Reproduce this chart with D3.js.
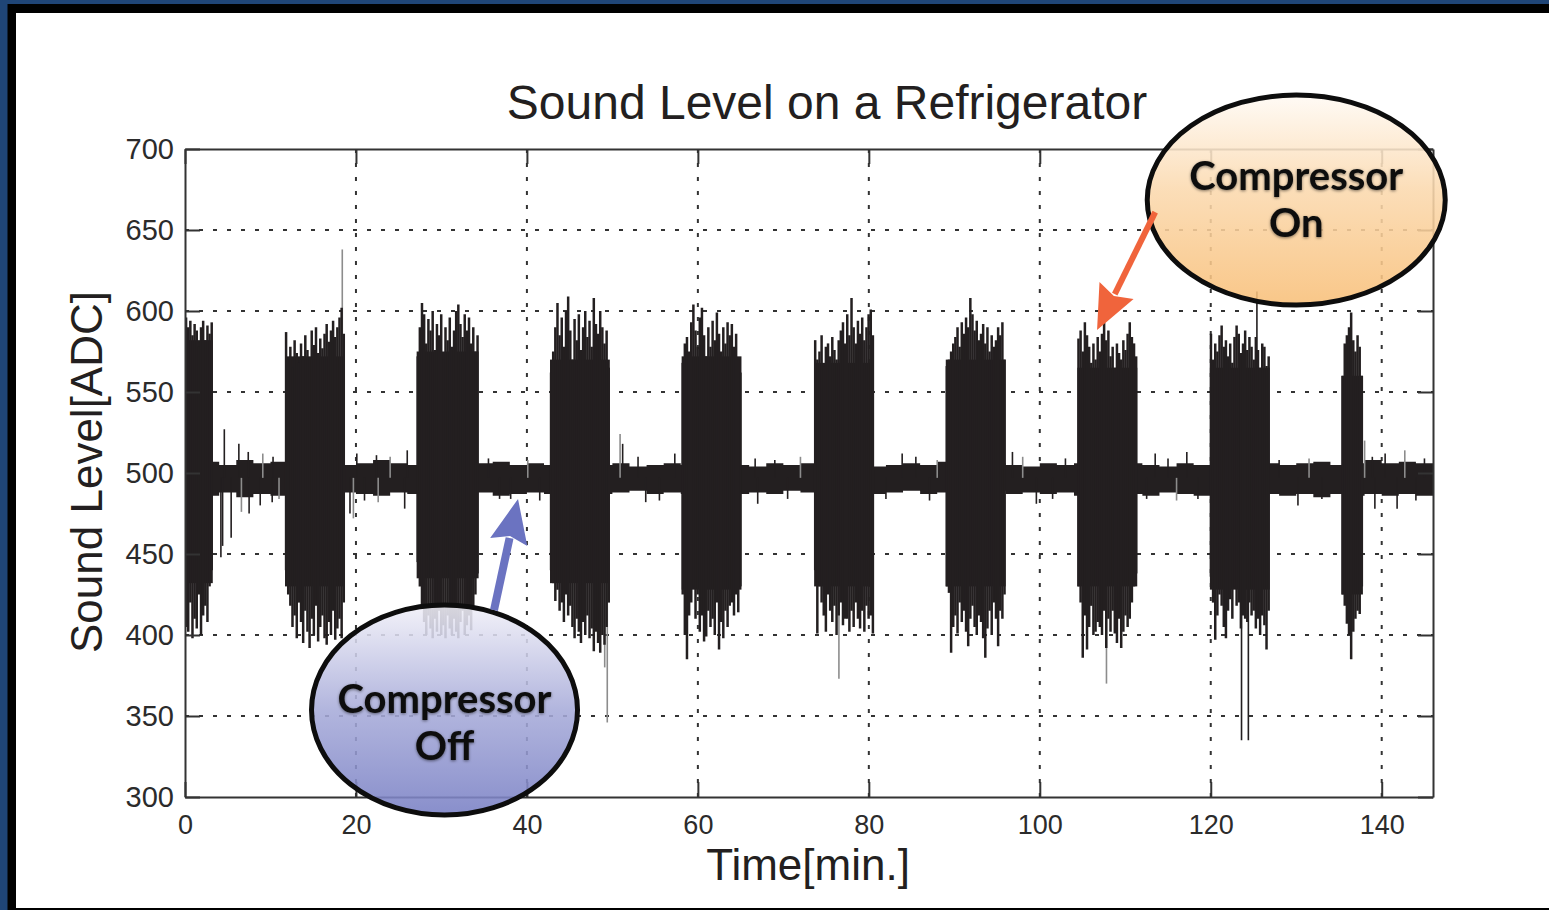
<!DOCTYPE html>
<html>
<head>
<meta charset="utf-8">
<script src="https://cdn.jsdelivr.net/npm/d3@7"></script>
<style>
  html, body { margin: 0; padding: 0; background: #1f4577; }
  svg { display: block; }
</style>
</head>
<body>
<svg id="chart" width="1549" height="910"></svg>
<script>
// ---- values ----
const xTicks = [0, 20, 40, 60, 80, 100, 120, 140];
const yTicks = [300, 350, 400, 450, 500, 550, 600, 650, 700];

// compressor-on bursts: start [min], solid body, envelope every 0.25 min
const sampleStep = 0.25;
const burstStart = [0, 11.7, 27.1, 42.7, 58.1, 73.6, 89.0, 104.4, 119.9, 135.3];
const burstCoreHi = [582, 572, 575, 570, 572, 568, 570, 565, 565, 560];
const burstCoreLo = [432, 430, 435, 432, 428, 430, 430, 430, 428, 425];
const burstHi = [
  [596, 590, 594, 585, 592, 588, 578, 590, 594, 582, 591, 586, 593],
  [587, 570, 578, 565, 582, 574, 568, 580, 572, 585, 576, 570, 588, 579, 590, 574, 583, 577, 586, 592, 581, 588, 594, 584, 590, 596, 602, 586],
  [572, 590, 605, 598, 580, 595, 588, 600, 576, 592, 585, 598, 570, 590, 582, 596, 578, 588, 600, 604, 592, 584, 598, 588, 596, 580, 590, 575, 585],
  [562, 575, 590, 605, 585, 596, 578, 600, 609, 588, 570, 595, 582, 598, 576, 590, 600, 584, 594, 578, 608, 592, 586, 600, 590, 580, 588, 565],
  [568, 580, 584, 575, 593, 604, 588, 578, 596, 602, 585, 572, 590, 578, 594, 582, 599, 586, 575, 590, 580, 593, 585, 592, 578, 586, 570, 562],
  [582, 570, 575, 585, 566, 578, 580, 572, 584, 576, 570, 582, 588, 593, 580, 598, 585, 608, 590, 580, 594, 586, 596, 582, 590, 598, 601, 585],
  [566, 570, 575, 580, 584, 590, 578, 593, 586, 596, 590, 608, 598, 588, 594, 582, 586, 592, 580, 590, 575, 585, 578, 582, 590, 585, 593, 570],
  [583, 588, 575, 593, 585, 578, 568, 580, 570, 584, 575, 586, 593, 582, 588, 572, 578, 565, 580, 574, 570, 582, 576, 586, 593, 584, 580, 572],
  [586, 570, 580, 575, 585, 591, 578, 582, 572, 580, 568, 584, 591, 586, 574, 580, 588, 576, 584, 578, 570, 584, 576, 565, 580, 578, 566, 572],
  [560, 580, 585, 590, 599, 582, 575, 585, 578, 560]
];
const burstLo = [
  [405, 402, 420, 398, 410, 404, 425, 400, 412, 418, 408, 430, 440],
  [440, 425, 418, 405, 412, 398, 420, 408, 395, 415, 402, 392, 410, 400, 418, 396, 405, 412, 398, 394, 408, 400, 415, 397, 404, 410, 398, 420],
  [445, 430, 418, 408, 400, 412, 404, 398, 410, 402, 415, 400, 406, 398, 412, 404, 400, 410, 402, 398, 408, 415, 400, 406, 412, 403, 418, 425, 438],
  [440, 432, 421, 428, 415, 420, 408, 425, 412, 418, 405, 398, 410, 402, 395, 408, 400, 412, 398, 404, 390, 402, 395, 389, 400, 394, 405, 420],
  [425, 400, 385, 412, 420, 430, 410, 425, 402, 412, 396, 399, 415, 405, 410, 400, 420, 391, 408, 398, 415, 405, 418, 420, 412, 425, 414, 430],
  [440, 401, 430, 420, 412, 402, 425, 415, 408, 418, 400, 412, 420, 406, 410, 410, 402, 415, 405, 420, 410, 404, 415, 402, 418, 410, 412, 401],
  [430, 426, 389, 405, 412, 401, 420, 408, 415, 402, 393, 410, 418, 405, 400, 412, 408, 398, 386, 404, 415, 400, 420, 410, 393, 415, 410, 425],
  [430, 420, 386, 412, 391, 405, 418, 400, 402, 408, 405, 400, 415, 392, 410, 402, 415, 401, 395, 410, 392, 402, 412, 405, 410, 420, 430, 438],
  [436, 420, 397, 412, 425, 418, 405, 398, 415, 422, 410, 430, 418, 420, 404, 412, 410, 408, 420, 412, 415, 404, 410, 400, 412, 406, 391, 415],
  [425, 418, 407, 400, 385, 402, 410, 415, 413, 430]
];

// compressor-off noise band, every 2 min
const bandStep = 2;
const bandHi = [506, 507, 505, 508, 506, 507, 505, 506, 507, 505, 506, 508, 506, 505, 507, 506, 505, 506, 507, 505,
  506, 505, 507, 506, 505, 506, 504, 505, 506, 505, 507, 506, 505, 504, 506, 505, 506, 507, 505, 506,
  504, 505, 506, 505, 507, 506, 505, 506, 505, 504, 506, 505, 506, 507, 505, 506, 505, 504, 506, 505,
  506, 505, 507, 506, 505, 506, 507, 505, 506, 508, 506, 507, 506];
const bandLo = [487, 486, 488, 485, 487, 486, 488, 487, 486, 488, 487, 486, 488, 487, 489, 488, 487, 488, 486, 487,
  488, 487, 489, 488, 487, 488, 489, 487, 488, 487, 488, 489, 487, 488, 487, 489, 488, 487, 488, 489,
  487, 488, 489, 487, 488, 487, 488, 489, 487, 488, 487, 488, 486, 487, 488, 487, 486, 488, 487, 486,
  487, 486, 488, 487, 486, 487, 485, 487, 486, 487, 486, 487, 486];
const bandMid = 497;

// single spikes: time [min], value, dark (1) or grey (0)
const spikeT = [18.4, 49.4, 49.1, 76.5, 107.8, 123.6, 124.4, 125.4,
  4.2, 4.4, 4.6, 5.4, 6.3, 6.6, 7.4, 7.5, 8.8, 9.1, 10.2, 10.3, 11.0,
  19.3, 19.7, 20.1, 21.0, 22.4, 22.6, 24.0, 25.7, 26.0,
  35.5, 36.8, 38.1, 40.1, 41.5,
  50.9, 51.2, 53.0, 53.9, 55.5, 57.3,
  66.7, 67.0, 69.0, 70.5, 72.0,
  82.0, 83.9, 85.5, 87.1, 88.0,
  96.8, 98.0, 99.6, 101.5, 103.0,
  112.5, 113.5, 115.0, 116.0, 117.2, 118.5,
  128.0, 130.2, 131.5, 133.0,
  138.0, 138.9, 139.2, 140.4, 141.8, 142.7, 144.0, 145.0];
const spikeV = [638, 346, 380, 373, 370, 335, 335, 612,
  448, 455, 527, 460, 518, 476, 513, 475, 480, 512, 482, 510, 484,
  475, 472, 512, 483, 511, 482, 510, 478, 514,
  509, 484, 484, 508, 483,
  524, 518, 510, 482, 483, 512,
  509, 481, 508, 484, 510,
  484, 512, 510, 483, 508,
  513, 510, 481, 484, 509,
  484, 512, 509, 483, 513, 484,
  508, 480, 509, 484,
  520, 510, 478, 512, 478, 514, 483, 509];
const spikeDark = [0, 0, 0, 0, 0, 1, 1, 1,
  1, 1, 1, 1, 1, 0, 1, 1, 1, 0, 1, 1, 0,
  1, 0, 1, 1, 1, 0, 0, 1, 1,
  1, 1, 1, 0, 1,
  0, 1, 1, 1, 1, 1,
  1, 1, 1, 1, 0,
  1, 1, 1, 1, 0,
  1, 0, 1, 1, 1,
  1, 1, 1, 0, 1, 1,
  1, 1, 0, 1,
  0, 1, 1, 1, 1, 0, 1, 1];

// annotations (data coordinates)
const notes = [
  { lines: ["Compressor", "On"], t: 130.0, v: 668.5, rx: 149, ry: 105, grad: "gOn", textDy: -10,
    arrow: { from: [113.5, 661], to: [106.7, 588.3], color: "#f0643c", width: 6 } },
  { lines: ["Compressor", "Off"], t: 30.36, v: 353.7, rx: 133, ry: 105, grad: "gOff", textDy: 3,
    arrow: { from: [36.15, 415.4], to: [38.96, 484.0], color: "#6b73c1", width: 8 } }
];

// ---- drawing ----
const W = 1549, H = 910;
const svg = d3.select("#chart");
const x = d3.scaleLinear().domain([0, 146]).range([185, 1433]);
const y = d3.scaleLinear().domain([300, 700]).range([797, 149]);
const ink = "#231f20";
const axisInk = "#333";
const font = "Liberation Sans, Arial, sans-serif";

// frame
svg.append("rect").attr("width", W).attr("height", H).attr("fill", "#1f4577");
svg.append("rect").attr("x", 7.5).attr("y", 4).attr("width", W).attr("height", H).attr("fill", "#000");
svg.append("rect").attr("x", 16).attr("y", 13).attr("width", W).attr("height", 895).attr("fill", "#fff");

const defs = svg.append("defs");
defs.append("clipPath").attr("id", "plotClip")
  .append("rect").attr("x", x(0)).attr("y", y(700))
  .attr("width", x(146) - x(0)).attr("height", y(300) - y(700));

const gOn = defs.append("linearGradient").attr("id", "gOn").attr("x1", 0).attr("y1", 0).attr("x2", 0).attr("y2", 1);
gOn.append("stop").attr("offset", "0%").attr("stop-color", "#fffaf4");
gOn.append("stop").attr("offset", "45%").attr("stop-color", "#fbd9ae");
gOn.append("stop").attr("offset", "100%").attr("stop-color", "#f8bf78");
const gOff = defs.append("linearGradient").attr("id", "gOff").attr("x1", 0).attr("y1", 0).attr("x2", 0).attr("y2", 1);
gOff.append("stop").attr("offset", "0%").attr("stop-color", "#f1f0f8");
gOff.append("stop").attr("offset", "50%").attr("stop-color", "#a7abd9");
gOff.append("stop").attr("offset", "100%").attr("stop-color", "#787fc4");

const glow = defs.append("filter").attr("id", "glow").attr("x", "-10%").attr("y", "-20%").attr("width", "120%").attr("height", "140%");
glow.append("feDropShadow").attr("dx", 0).attr("dy", 1).attr("stdDeviation", 1.6)
  .attr("flood-color", "#000").attr("flood-opacity", 0.5);

// title and axis labels
svg.append("text").attr("x", 827).attr("y", 119).attr("text-anchor", "middle")
  .attr("font-family", font).attr("font-size", 48).attr("fill", ink)
  .text("Sound Level on a Refrigerator");
svg.append("text").attr("transform", "translate(102,472) rotate(-90)").attr("text-anchor", "middle")
  .attr("font-family", font).attr("font-size", 44).attr("fill", ink)
  .text("Sound Level[ADC]");
svg.append("text").attr("x", 808).attr("y", 880).attr("text-anchor", "middle")
  .attr("font-family", font).attr("font-size", 44).attr("fill", ink)
  .text("Time[min.]");

// grid
const grid = svg.append("g").attr("stroke", axisInk).attr("stroke-width", 2).attr("stroke-dasharray", "4,10");
grid.selectAll("line.gx").data(xTicks.filter(d => d > 0)).join("line")
  .attr("x1", d => x(d)).attr("x2", d => x(d)).attr("y1", y(700)).attr("y2", y(300));
grid.selectAll("line.gy").data(yTicks.filter(d => d > 300 && d < 700)).join("line")
  .attr("x1", x(0)).attr("x2", x(146)).attr("y1", d => y(d)).attr("y2", d => y(d));

// signal
const plot = svg.append("g").attr("clip-path", "url(#plotClip)");

const bandArea = d3.area().curve(d3.curveStepAfter)
  .x(d => x(d.t)).y0(d => y(d.lo)).y1(d => y(d.hi));
const bandPts = bandHi.map((h, i) => ({ t: i * bandStep, hi: h, lo: bandLo[i] }));
bandPts.push({ t: 146, hi: bandHi[bandHi.length - 1], lo: bandLo[bandLo.length - 1] });
plot.append("path").datum(bandPts).attr("d", bandArea).attr("fill", ink);

plot.selectAll("line.spike").data(spikeT.map((t, i) => ({ t, v: spikeV[i], dark: spikeDark[i] })))
  .join("line").attr("class", "spike")
  .attr("x1", d => x(d.t)).attr("x2", d => x(d.t))
  .attr("y1", y(bandMid)).attr("y2", d => y(d.v))
  .attr("stroke", d => d.dark ? ink : "#8c8c8c").attr("stroke-width", 1.6);

const bursts = burstStart.map((s, b) => ({
  start: s, end: s + burstHi[b].length * sampleStep,
  coreHi: burstCoreHi[b], coreLo: burstCoreLo[b],
  samples: burstHi[b].map((h, i) => ({ t: s + (i + 0.5) * sampleStep, hi: h, lo: burstLo[b][i] }))
}));
const bg = plot.selectAll("g.burst").data(bursts).join("g").attr("class", "burst");
bg.append("rect")
  .attr("x", d => x(d.start)).attr("width", d => x(d.end) - x(d.start))
  .attr("y", d => y(d.coreHi)).attr("height", d => y(d.coreLo) - y(d.coreHi))
  .attr("fill", ink);
bg.selectAll("line").data(d => d.samples).join("line")
  .attr("x1", d => x(d.t)).attr("x2", d => x(d.t))
  .attr("y1", d => y(d.lo)).attr("y2", d => y(d.hi))
  .attr("stroke", ink).attr("stroke-width", 2.5);

// axes (MATLAB box with inward ticks)
function styleAxis(g) {
  g.attr("font-family", font);
  g.selectAll("path.domain").attr("stroke", axisInk).attr("stroke-width", 2);
  g.selectAll(".tick line").attr("stroke", axisInk).attr("stroke-width", 2);
  g.selectAll(".tick text").attr("fill", "#2b2b2b");
}
svg.append("g").attr("transform", `translate(0,${y(300)})`)
  .call(d3.axisBottom(x).tickValues(xTicks).tickSize(-15).tickSizeOuter(0).tickPadding(18))
  .call(styleAxis).call(g => g.selectAll(".tick text").attr("font-size", 27));
svg.append("g").attr("transform", `translate(0,${y(700)})`)
  .call(d3.axisTop(x).tickValues(xTicks).tickSize(-15).tickSizeOuter(0).tickFormat(""))
  .call(styleAxis);
svg.append("g").attr("transform", `translate(${x(0)},0)`)
  .call(d3.axisLeft(y).tickValues(yTicks).tickSize(-15).tickSizeOuter(0).tickPadding(11))
  .call(styleAxis).call(g => g.selectAll(".tick text").attr("font-size", 29));
svg.append("g").attr("transform", `translate(${x(146)},0)`)
  .call(d3.axisRight(y).tickValues(yTicks).tickSize(-15).tickSizeOuter(0).tickFormat(""))
  .call(styleAxis);

// callouts
notes.forEach(n => {
  const cx = x(n.t), cy = y(n.v);
  const a = n.arrow;
  const x0 = x(a.from[0]), y0 = y(a.from[1]), x1 = x(a.to[0]), y1 = y(a.to[1]);
  const len = Math.hypot(x1 - x0, y1 - y0), ux = (x1 - x0) / len, uy = (y1 - y0) / len;
  const headL = 44, headW = 19;
  const bx = x1 - ux * headL, by = y1 - uy * headL;

  svg.append("ellipse").attr("cx", cx).attr("cy", cy).attr("rx", n.rx).attr("ry", n.ry)
    .attr("fill", `url(#${n.grad})`).attr("fill-opacity", 0.88)
    .attr("stroke", "#0d0d0d").attr("stroke-width", 5);

  svg.append("line").attr("x1", x0).attr("y1", y0).attr("x2", bx + ux * 4).attr("y2", by + uy * 4)
    .attr("stroke", a.color).attr("stroke-width", a.width);
  svg.append("path")
    .attr("d", `M${x1},${y1}L${bx - uy * headW},${by + ux * headW}L${bx + ux * 6},${by + uy * 6}L${bx + uy * headW},${by - ux * headW}Z`)
    .attr("fill", a.color);

  svg.append("text").attr("x", cx).attr("y", cy + n.textDy).attr("text-anchor", "middle")
    .attr("font-family", "Lato, 'Open Sans', sans-serif").attr("font-weight", 700)
    .attr("font-size", 40).attr("fill", "#111").attr("filter", "url(#glow)")
    .selectAll("tspan").data(n.lines).join("tspan")
    .attr("x", cx).attr("dy", (d, i) => i ? 47 : 0).text(d => d);
});
</script>
</body>
</html>
